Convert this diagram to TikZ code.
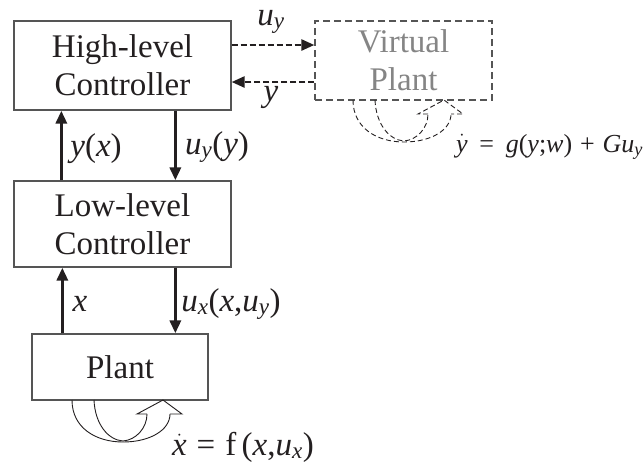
\documentclass[tikz,border=0pt]{standalone}
\usepackage{amsmath}
\usepackage{fontspec}
\setmainfont{Liberation Serif}
\usetikzlibrary{arrows.meta}
\definecolor{ink}{HTML}{231F20}
\definecolor{boxline}{HTML}{555555}
\definecolor{vtext}{HTML}{858585}
\newcommand\mi[1]{\textit{#1}}
\tikzset{
  blockbox/.style={draw=boxline,line width=1.3pt,rectangle,inner sep=0pt,align=center,
    text=ink,font=\fontsize{33}{38}\selectfont},
  vbox/.style={blockbox,dashed,dash pattern=on 7pt off 4pt,text=vtext},
  solidarr/.style={draw=ink,line width=3.2pt,-{Triangle[length=13pt,width=11pt]}},
  dasharr/.style={draw=ink,line width=2.6pt,dash pattern=on 6pt off 3pt,-{Triangle[length=13pt,width=11pt]}},
  lbl/.style={text=ink,font=\fontsize{33}{38}\selectfont,inner sep=0pt},
  smalllbl/.style={text=ink,font=\fontsize{26}{30}\selectfont,inner sep=0pt},
  loopline/.style={draw=ink,line width=0.9pt},
}
\begin{document}
\begin{tikzpicture}[x=1pt,y=-1pt]
\useasboundingbox (0,0) rectangle (643,467);
\node[blockbox,minimum width=217pt,minimum height=89pt] (high) at (122.5,65.5) {High-level\\Controller};
\node[blockbox,minimum width=217pt,minimum height=86pt] (low) at (122.5,224) {Low-level\\Controller};
\node[blockbox,minimum width=176pt,minimum height=66pt] (plant) at (120,367) {Plant};
\node[vbox,minimum width=177pt,minimum height=79pt] (vp) at (403.5,60.5) {Virtual\\Plant};

% vertical arrows
\draw[solidarr] ([xshift=48pt]low.north west) -- ([xshift=48pt]high.south west);
\draw[solidarr] ([xshift=162pt]high.south west) -- ([xshift=162pt]low.north west);
\draw[solidarr] ([xshift=49pt]low.south west |- plant.north) -- ([xshift=49pt]low.south west);
\draw[solidarr] ([xshift=162pt]low.south west) -- ([xshift=162pt]low.south west |- plant.north);

% dashed arrows
\draw[dasharr] (high.east |- 0,45) -- (vp.west |- 0,45);
\draw[dasharr] (vp.west |- 0,82) -- (high.east |- 0,82);

% labels
\node[lbl] (lyx) at (96,149) {\mi{y}(\mi{x})};
\node[lbl] (luy) at (217,147) {$\mi{u}_{\mi{y}}$(\mi{y})};
\node[lbl] (lx) at (80,304) {\mi{x}};
\node[lbl] (lux) at (231,304) {$\mi{u}_{\mi{x}}$(\mi{x},$\mi{u}_{\mi{y}}$)};
\node[lbl] (ltop) at (271,22) {$\mi{u}_{\mi{y}}$};
\node[lbl] (lbot) at (271,97) {\mi{y}};
\node[lbl,anchor=base west] (eqx) at (172,455) {$\dot{\mi{x}}$\hspace{0.3em}=\hspace{0.3em}f\,(\mi{x},$\mi{u}_{\mi{x}}$)};
\node[smalllbl,anchor=base west] (eqy) at (456,152) {$\dot{\mi{y}}$\hspace{0.45em}=\hspace{0.45em}\mi{g}(\mi{y};\mi{w})\hspace{0.3em}+\hspace{0.3em}\mi{G}$\mi{u}_{\mi{y}}$};

% plant self loop (outlined curved arrow)
\begin{scope}[loopline]
\draw (72,400) .. controls (72,428) and (96,442) .. (123,442) .. controls (150,442) and (170,430) .. (170,414);
\draw (94,400) .. controls (95,424) and (108,440) .. (123,441) .. controls (136,440) and (147,428) .. (147,414);
\draw (147,414) -- (137,414) -- (163,400) -- (182,414) -- (170,414);
\end{scope}
% virtual plant self loop (dashed)
\begin{scope}[loopline,dashed,dash pattern=on 5pt off 3pt,shift={(281,-300)}]
\draw (72,400) .. controls (72,428) and (96,442) .. (123,442) .. controls (150,442) and (170,430) .. (170,414);
\draw (94,400) .. controls (95,424) and (108,440) .. (123,441) .. controls (136,440) and (147,428) .. (147,414);
\draw (147,414) -- (137,414) -- (163,400) -- (182,414) -- (170,414);
\end{scope}
\end{tikzpicture}
\end{document}
